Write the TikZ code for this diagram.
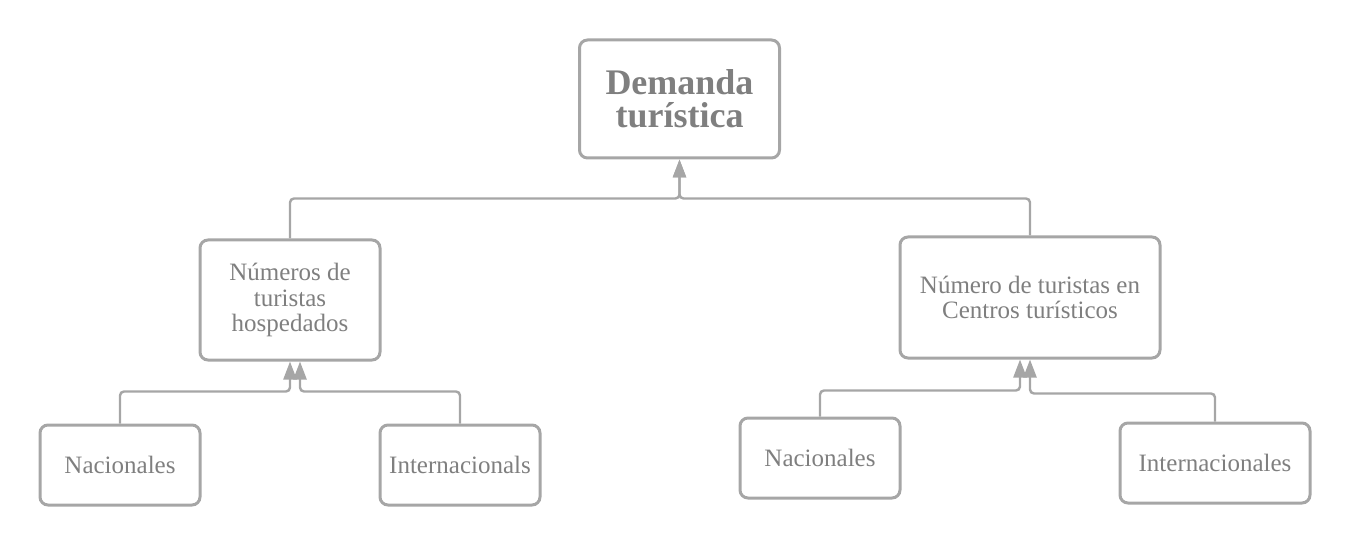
\documentclass[tikz,border=0pt]{standalone}
\usepackage{fontspec}
\setmainfont{Liberation Serif}
\usetikzlibrary{arrows.meta}
\definecolor{linegray}{HTML}{A6A6A6}
\definecolor{textgray}{HTML}{7F7F7F}

\begin{document}
\begin{tikzpicture}[x=0.5pt,y=-0.5pt,
    link/.style={-{Triangle[width=6.5pt,length=9pt]},draw=linegray,
      fill=none,line width=1.2pt,rounded corners=2pt}]
    \tikzstyle{box}=[draw=linegray,line width=1.5pt,rounded corners=4pt,
      align=center,text=textgray,font=\fontsize{12.5}{12.8}\selectfont]

    \useasboundingbox (0,0) rectangle (1360,545);

    \node[box,font=\bfseries\fontsize{18}{16.5}\selectfont,
      minimum width=100pt,minimum height=59pt] (D) at (679.5,99) {Demanda\\turística};
    \node[box,minimum width=90pt,minimum height=60pt]   (H)  at (290,300)    {Números de\\turistas\\hospedados};
    \node[box,minimum width=130pt,minimum height=60.5pt] (C) at (1030,297.5) {Número de turistas en\\Centros turísticos};
    \node[box,minimum width=80pt,minimum height=40pt]   (HN) at (120,465)    {Nacionales};
    \node[box,minimum width=80pt,minimum height=40pt]   (HI) at (460,465)    {Internacionals};
    \node[box,minimum width=80pt,minimum height=40pt]   (CN) at (820,458)    {Nacionales};
    \node[box,minimum width=95pt,minimum height=40pt]   (CI) at (1215,463)   {Internacionales};

    \draw[link] (H.north) -- ++(0,-40) -| (D.south);
    \draw[link] (C.north) -- ++(0,-37) -| (D.south);
    \draw[link] (HN.north) -- ++(0,-32) -| (H.south);
    \draw[link] (HI.north) -- ++(0,-32) -| ([xshift=5pt]H.south);
    \draw[link] (CN.north) -- ++(0,-26) -| ([xshift=-5pt]C.south);
    \draw[link] (CI.north) -- ++(0,-28) -| (C.south);
  \end{tikzpicture}
\end{document}
